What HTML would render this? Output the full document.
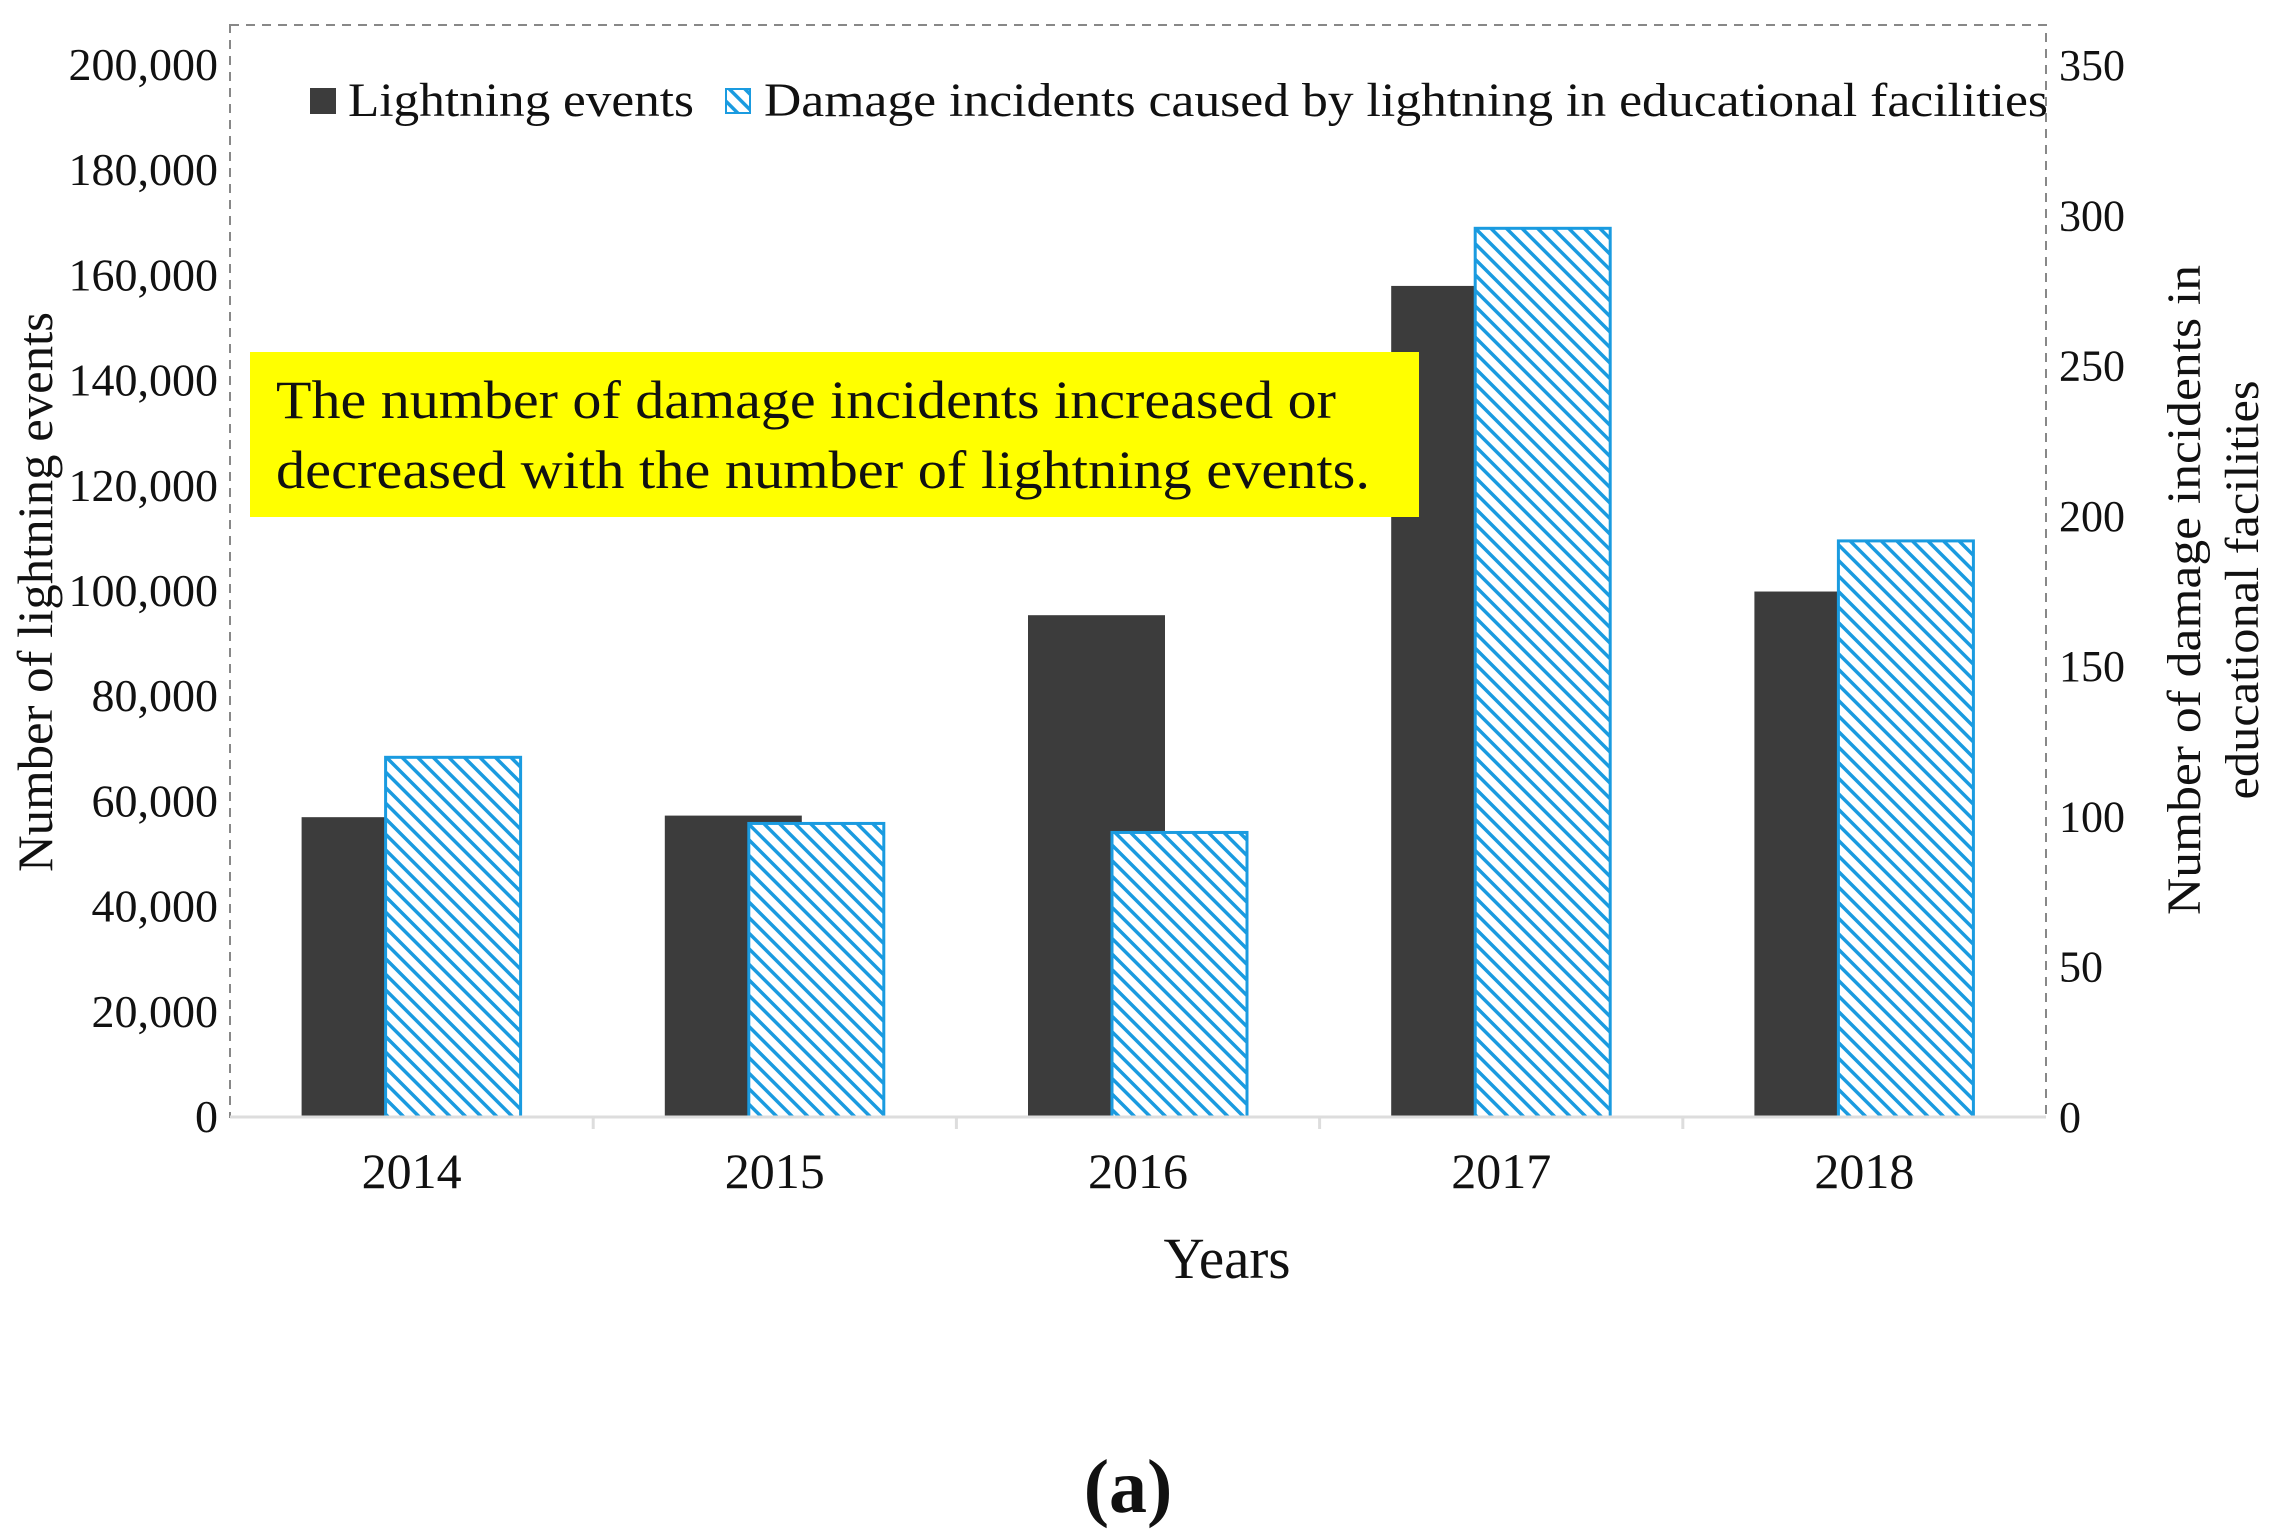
<!DOCTYPE html>
<html><head><meta charset="utf-8"><style>
body{margin:0;background:#fff}
svg{display:block}
text{font-family:"Liberation Serif",serif;fill:#111}
</style></head><body>
<svg id="chart" width="2281" height="1539" viewBox="0 0 2281 1539" xmlns="http://www.w3.org/2000/svg">
<defs>
<pattern id="hatch" patternUnits="userSpaceOnUse" width="11" height="11" patternTransform="rotate(-45)">
<rect width="11" height="11" fill="#fff"/>
<rect x="0" y="0" width="3.5" height="11" fill="#1a9be0"/>
</pattern>
</defs>
<rect x="230" y="25" width="1816" height="1092" fill="none" stroke="#888" stroke-width="2" stroke-dasharray="9,7"/>
<g id="bars"></g>
<line x1="230" y1="1117" x2="2046" y2="1117" stroke="#ddd" stroke-width="3"/>
<g id="ticks"></g>
<g>
<rect x="310" y="88" width="26" height="26" fill="#3c3c3c"/>
<text x="348" y="116" font-size="48" textLength="346" lengthAdjust="spacingAndGlyphs">Lightning events</text>
<rect x="726" y="89" width="24" height="24" fill="url(#hatch)" stroke="#1a9be0" stroke-width="2"/>
<text x="764" y="116" font-size="48" textLength="1284" lengthAdjust="spacingAndGlyphs">Damage incidents caused by lightning in educational facilities</text>
</g>
<rect x="250" y="352" width="1169" height="165" fill="#ffff00"/>
<text x="276" y="418" font-size="54" textLength="1060" lengthAdjust="spacingAndGlyphs">The number of damage incidents increased or</text>
<text x="276" y="488" font-size="54" textLength="1094" lengthAdjust="spacingAndGlyphs">decreased with the number of lightning events.</text>
<text transform="translate(52,592) rotate(-90)" text-anchor="middle" font-size="50" textLength="560" lengthAdjust="spacingAndGlyphs">Number of lightning events</text>
<text transform="translate(2200,590) rotate(-90)" text-anchor="middle" font-size="48" textLength="650" lengthAdjust="spacingAndGlyphs">Number of damage incidents in</text>
<text transform="translate(2258,590) rotate(-90)" text-anchor="middle" font-size="48" textLength="419" lengthAdjust="spacingAndGlyphs">educational  facilities</text>
<text x="1227" y="1278" text-anchor="middle" font-size="58" textLength="127" lengthAdjust="spacingAndGlyphs">Years</text>
<text x="1128" y="1512" text-anchor="middle" font-size="76" font-weight="bold">(a)</text>
</svg>
<script>
const categories = ["2014","2015","2016","2017","2018"];
const lightningValues = [57000, 57300, 95400, 158000, 99900];
const damageValues = [120, 98, 95, 296, 192];
const leftTicks = [0,20000,40000,60000,80000,100000,120000,140000,160000,180000,200000];
const rightTicks = [0,50,100,150,200,250,300,350];

const NS = "http://www.w3.org/2000/svg";
const plotL = 230, plotR = 2046, baseY = 1117, topY = 65;
const catW = (plotR - plotL) / categories.length;
const yLeft = v => baseY - v / 200000 * (baseY - topY);
const yRight = v => baseY - v / 350 * (baseY - topY);
const xCat = i => plotL + catW * (i + 0.5);
const barW = 137, offset = 41.5;
function mk(tag, attrs, parent) {
  const e = document.createElementNS(NS, tag);
  for (const k in attrs) e.setAttribute(k, attrs[k]);
  parent.appendChild(e);
  return e;
}
const bars = document.getElementById('bars');
const ticks = document.getElementById('ticks');
categories.forEach((c, i) => {
  const cx = xCat(i);
  const y1 = yLeft(lightningValues[i]);
  const b1 = mk('rect', {x: cx - offset - barW/2, y: y1, width: barW, height: baseY - y1, fill: '#3c3c3c'}, bars);
  
  
  const y2 = yRight(damageValues[i]);
  const b2 = mk('rect', {x: cx + offset - barW/2 + 1, y: y2 + 1, width: barW - 2, height: baseY - y2 - 1, fill: 'url(#hatch)', stroke: '#1a9be0', 'stroke-width': 3}, bars);
  
  
  const t = mk('text', {x: cx, y: 1188, 'text-anchor': 'middle', 'font-size': 50}, ticks);
  t.textContent = c;
  
  
  if (i > 0) {
    const tk = mk('line', {x1: plotL + catW * i, x2: plotL + catW * i, y1: baseY, y2: baseY + 12, stroke: '#ddd', 'stroke-width': 3}, ticks);
    
    
  }
});
leftTicks.forEach(v => {
  const t = mk('text', {x: 218, y: yLeft(v) + 15, 'text-anchor': 'end', 'font-size': 46}, ticks);
  t.textContent = v.toLocaleString('en-US');
  
  
});
rightTicks.forEach(v => {
  const t = mk('text', {x: 2059, y: yRight(v) + 15, 'font-size': 44}, ticks);
  t.textContent = v;
  
  
});
</script>
</body></html>
